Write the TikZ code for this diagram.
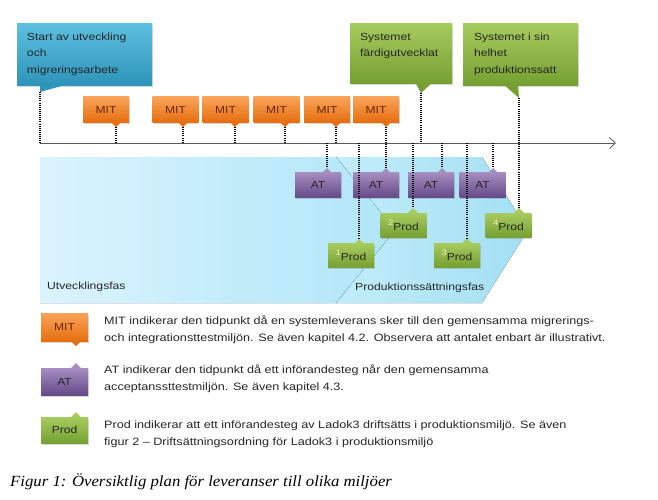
\documentclass[tikz,border=0pt]{standalone}
\usepackage{fontspec}
\setmainfont{Liberation Sans}[FakeStretch=1.18]
\newfontfamily\figfont{Liberation Serif}[FakeStretch=1.08]
\usepackage{tikz}
\usetikzlibrary{arrows.meta,shadows}
\definecolor{mitTop}{HTML}{F9A45A}
\definecolor{mitBot}{HTML}{E66E10}
\definecolor{mitText}{HTML}{6A2606}
\definecolor{atTop}{HTML}{A58DC0}
\definecolor{atBot}{HTML}{654A88}
\definecolor{prodTop}{HTML}{A7CB5E}
\definecolor{prodBot}{HTML}{76A032}
\definecolor{noteTop}{HTML}{5CC0E0}
\definecolor{noteBot}{HTML}{2E95BA}
\definecolor{devLeft}{HTML}{DAF4FD}
\definecolor{devRight}{HTML}{B0E6F8}
\definecolor{prodLeft}{HTML}{C2EDFA}
\definecolor{prodRight}{HTML}{A3DFF3}
\definecolor{supNum}{HTML}{F3F0B8}

\begin{document}
\begin{tikzpicture}[x=1pt,y=-1pt,every node/.style={font=\fontsize{10.3}{12}\selectfont,inner sep=0pt},
  boxshadow/.style={drop shadow={opacity=.3,shadow xshift=.5pt,shadow yshift=-1.5pt}},
  mitbox/.style={boxshadow,minimum width=46pt,minimum height=26pt,top color=mitTop,bottom color=mitBot,text=mitText,font=\fontsize{10.2}{12}\selectfont},
  atbox/.style={boxshadow,minimum width=46pt,minimum height=25pt,top color=atTop,bottom color=atBot,text=black!85,font=\fontsize{10.2}{12}\selectfont},
  prodbox/.style={boxshadow,minimum width=46pt,minimum height=24pt,top color=prodTop,bottom color=prodBot,text=black!85,font=\fontsize{10.2}{12}\selectfont},
  startnote/.style={boxshadow,minimum height=62pt,inner xsep=10pt,text width=115pt,align=left,top color=noteTop,bottom color=noteBot,text=black!85,font=\fontsize{10.3}{16.5}\selectfont},
  greennote/.style={boxshadow,minimum height=60pt,inner xsep=10pt,align=left,top color=prodTop,bottom color=prodBot,text=black!85,font=\fontsize{10.3}{16.5}\selectfont},
  guide/.style={line width=1.1pt,dash pattern=on 1pt off 1.1pt},
  legendtext/.style={anchor=west,align=left,text=black!85,font=\fontsize{10.7}{17}\selectfont}]
  \useasboundingbox (0,0) rectangle (658,499);

  \fill[left color=prodLeft,right color=prodRight] (336,157) -- (482,157) -- (528,230) -- (482,303) -- (336,303) -- (395,230) -- cycle;
  \fill[left color=devLeft,right color=devRight] (40,157) -- (336,157) -- (395,230) -- (336,303) -- (40,303) -- cycle;
  \node[anchor=west,text=black!85] (dev) at (47,287) {Utvecklingsfas};
  \node[anchor=west,text=black!85] (prodfas) at (355,288) {Produktionssättningsfas};

  \coordinate (t0) at (40,143);
  \coordinate (t1) at (616,143);
  \draw[black!65,line width=.8pt,-{Straight Barb[length=6pt,width=11pt]}] (t0) -- (t1);

  \node[startnote] (start) at (84.5,54) {Start av utveckling\\och\\migreringsarbete};
  \coordinate (startt) at (40,92);
  \fill[noteBot] (startt) -- ++(0,-9) -- ++(32,0) -- cycle;
  \node[greennote,text width=82pt] (klar) at (401,53) {Systemet\\färdigutvecklat\\\mbox{}};
  \coordinate (klart) at (421,93);
  \fill[prodBot] (klart) -- ++(-6,-11) -- ++(18,0) -- cycle;
  \node[greennote,minimum height=62pt,inner xsep=11pt,text width=93pt] (helhet) at (520.5,54) {Systemet i sin\\helhet\\produktionssatt};
  \coordinate (helhett) at (519,98);
  \fill[prodBot] (helhett) -- ++(-16,-14) -- ++(15,0) -- cycle;

  \node[mitbox] (m1) at (106,109.5) {MIT};
  \node[mitbox] (m2) at (175.5,109.5) {MIT};
  \node[mitbox] (m3) at (225.5,109.5) {MIT};
  \node[mitbox] (m4) at (276.5,109.5) {MIT};
  \node[mitbox] (m5) at (327,109.5) {MIT};
  \node[mitbox] (m6) at (376,109.5) {MIT};
  \coordinate (m1t) at (116,127);
  \coordinate (m2t) at (183,127);
  \coordinate (m3t) at (235,127);
  \coordinate (m4t) at (285,127);
  \coordinate (m5t) at (336,127);
  \coordinate (m6t) at (386,127);
  \fill[mitBot] (m1t) -- ++(-5,-5) -- ++(10,0) -- cycle;
  \fill[mitBot] (m2t) -- ++(-5,-5) -- ++(10,0) -- cycle;
  \fill[mitBot] (m3t) -- ++(-5,-5) -- ++(10,0) -- cycle;
  \fill[mitBot] (m4t) -- ++(-5,-5) -- ++(10,0) -- cycle;
  \fill[mitBot] (m5t) -- ++(-5,-5) -- ++(10,0) -- cycle;
  \fill[mitBot] (m6t) -- ++(-5,-5) -- ++(10,0) -- cycle;

  \node[atbox] (a1) at (318,185) {AT};
  \node[atbox] (a2) at (376,185) {AT};
  \node[atbox] (a3) at (431,185) {AT};
  \node[atbox] (a4) at (482.5,185) {AT};
  \coordinate (a1t) at (327,168);
  \coordinate (a2t) at (386,168);
  \coordinate (a3t) at (442,168);
  \coordinate (a4t) at (493,168);
  \fill[atTop] (a1t) -- ++(-5,5) -- ++(10,0) -- cycle;
  \fill[atTop] (a2t) -- ++(-5,5) -- ++(10,0) -- cycle;
  \fill[atTop] (a3t) -- ++(-5,5) -- ++(10,0) -- cycle;
  \fill[atTop] (a4t) -- ++(-5,5) -- ++(10,0) -- cycle;

  \node[prodbox] (p1) at (351,255.5) {\textcolor{supNum}{\raisebox{5pt}{\fontsize{8}{8}\selectfont 1}}Prod};
  \node[prodbox] (p2) at (403.5,225) {\textcolor{supNum}{\raisebox{5pt}{\fontsize{8}{8}\selectfont 2}}Prod};
  \node[prodbox] (p3) at (457,255) {\textcolor{supNum}{\raisebox{5pt}{\fontsize{8}{8}\selectfont 3}}Prod};
  \node[prodbox] (p4) at (508.5,225) {\textcolor{supNum}{\raisebox{5pt}{\fontsize{8}{8}\selectfont 4}}Prod};
  \coordinate (p1t) at (359,239);
  \coordinate (p2t) at (413,208);
  \coordinate (p3t) at (467,238);
  \coordinate (p4t) at (519,208);
  \fill[prodTop] (p1t) -- ++(-5,5) -- ++(10,0) -- cycle;
  \fill[prodTop] (p2t) -- ++(-5,5) -- ++(10,0) -- cycle;
  \fill[prodTop] (p3t) -- ++(-5,5) -- ++(10,0) -- cycle;
  \fill[prodTop] (p4t) -- ++(-5,5) -- ++(10,0) -- cycle;

  \draw[guide] (startt) -- (startt |- t0);
  \draw[guide] (m1t) -- (m1t |- t0);
  \draw[guide] (m2t) -- (m2t |- t0);
  \draw[guide] (m3t) -- (m3t |- t0);
  \draw[guide] (m4t) -- (m4t |- t0);
  \draw[guide] (m5t) -- (m5t |- t0);
  \draw[guide] (m6t) -- (a2t);
  \draw[guide] (klart) -- (klart |- t0);
  \draw[guide] (helhett) -- (p4t);
  \draw[guide] (a1t |- t0) -- (a1t);
  \draw[guide] (a3t |- t0) -- (a3t);
  \draw[guide] (a4t |- t0) -- (a4t);
  \draw[guide] (p1t |- t0) -- (p1t);
  \draw[guide] (p2t |- t0) -- (p2t);
  \draw[guide] (p3t |- t0) -- (p3t);

  \node[mitbox,minimum width=47pt,minimum height=28pt] (lm) at (64.5,327) {MIT};
  \coordinate (lmt) at (76,346);
  \fill[mitBot] (lmt) -- ++(-5,-5) -- ++(10,0) -- cycle;
  \node[atbox,minimum width=47pt,minimum height=27pt] (la) at (64.5,381.5) {AT};
  \coordinate (lat) at (76,363);
  \fill[atTop] (lat) -- ++(-5,5) -- ++(10,0) -- cycle;
  \node[prodbox,minimum width=47pt,minimum height=26pt] (lp) at (64.5,430) {Prod};
  \coordinate (lpt) at (76,412);
  \fill[prodTop] (lpt) -- ++(-5,5) -- ++(10,0) -- cycle;

  \node[legendtext] (lmtext) at (104,330) {MIT indikerar den tidpunkt då en systemleverans sker till den gemensamma migrerings-\\och integrationsttestmiljön. Se även kapitel 4.2. Observera att antalet enbart är illustrativt.};
  \node[legendtext] (latext) at (104,379) {AT indikerar den tidpunkt då ett införandesteg når den gemensamma\\acceptanssttestmiljön. Se även kapitel 4.3.};
  \node[legendtext] (lptext) at (104,434) {Prod indikerar att ett införandesteg av Ladok3 driftsätts i produktionsmiljö. Se även\\figur 2 – Driftsättningsordning för Ladok3 i produktionsmiljö};

  \node[anchor=west,font=\figfont\itshape\fontsize{15.5}{18}\selectfont] (caption) at (10,482) {Figur 1: Översiktlig plan för leveranser till olika miljöer};
\end{tikzpicture}
\end{document}
